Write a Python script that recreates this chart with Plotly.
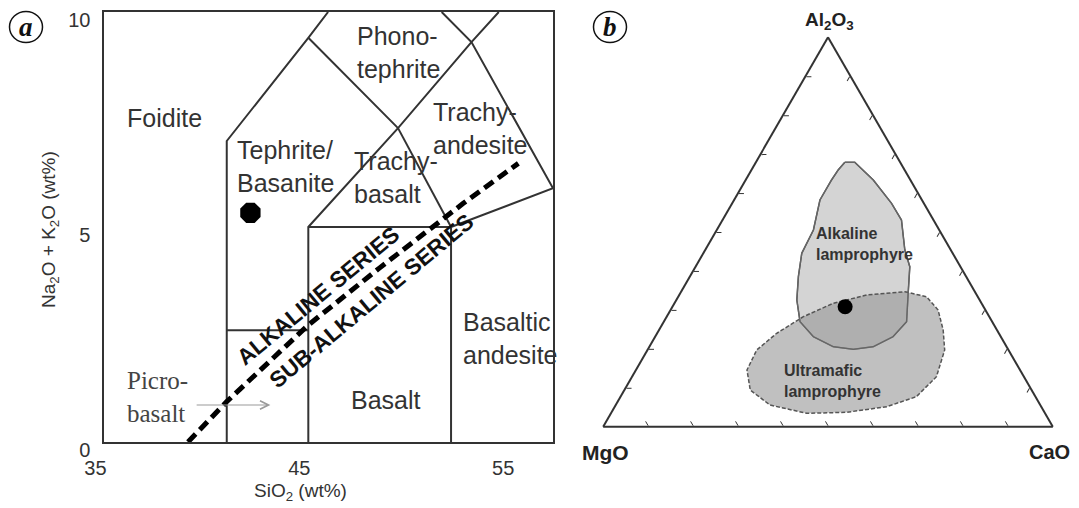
import plotly.graph_objects as go

# page body has an 8 px margin: the figure is sized to fill the rest of the window
PAGE_OFF = 8
W, H = 1079 - PAGE_OFF, 508 - PAGE_OFF

# ---------------- Panel (a): TAS diagram data ----------------
sio2_range = [35, 57]
alkali_range = [0, 10]
x_tick_vals = [35, 45, 55]
y_tick_vals = [0, 5, 10]

# field boundary polylines (SiO2 wt%, Na2O+K2O wt%)
bound_foidite_x = [41, 41, 45, 45.97]
bound_foidite_y = [0, 7, 9.4, 10]
bound_phono_x = [45, 49.4, 53, 54.34]
bound_phono_y = [9.4, 7.3, 9.3, 10]
bound_tb_right_x = [49.4, 52]
bound_tb_right_y = [7.3, 5]
bound_basalt_left_x = [45, 45, 49.4]
bound_basalt_left_y = [0, 5, 7.3]
bound_basalt_top_x = [45, 52]
bound_basalt_top_y = [5, 5]
bound_bas_and_x = [52, 52, 57]
bound_bas_and_y = [0, 5, 5.9]
bound_trachyand_x = [51.54, 53, 57]
bound_trachyand_y = [10, 9.3, 5.9]
bound_picro_x = [41, 45]
bound_picro_y = [2.6, 2.6]

# alkaline / sub-alkaline divide
divide_sio2 = [39.1, 41, 45, 48.5, 52.6, 55.3]
divide_alkali = [0, 0.94, 2.72, 4.05, 5.55, 6.48]

# sample
sample_sio2 = [42.16]
sample_alkali = [5.33]

field_names = ["Foidite", "Phono-<br>tephrite", "Trachy-<br>andesite", "Tephrite/<br>Basanite",
               "Trachy-<br>basalt", "Basaltic<br>andesite", "Basalt"]
field_x = [36.01, 47.28, 51.04, 41.42, 47.16, 52.49, 46.98]
field_y = [7.53, 9.05, 7.30, 6.40, 6.14, 2.40, 0.98]

# ---------------- Panel (b): ternary data (wt% Al2O3, CaO; MgO = rest) ----------------
alk_lamp_al = [67.9, 67.9, 63.35, 57.37, 53.08, 45.38, 41.09, 34.26, 26.96, 23.11, 20.54,
               19.88, 20.54, 23.11, 26.96, 32.54, 38.52, 44.53, 50.51, 58.22, 63.35, 65.92]
alk_lamp_ca = [19.8, 22.0, 28.4, 35.45, 39.8, 44.4, 47.65, 50.7, 54.0, 52.9, 49.8,
               45.7, 40.9, 35.2, 30.3, 26.8, 24.15, 21.9, 21.5, 19.1, 19.1, 19.3]
ultra_lamp_al = [34.67, 33.38, 29.97, 24.83, 19.70, 12.84, 7.70, 5.14, 3.70, 3.44, 5.57,
                 9.42, 14.56, 19.70, 23.99, 28.25, 31.69, 33.82]
ultra_lamp_ca = [49.75, 55.2, 59.5, 63.2, 66.1, 67.7, 65.8, 60.5, 52.3, 43.55, 34.3,
                 28.0, 24.7, 24.3, 26.6, 30.4, 35.3, 41.7]
sample_al = [30.82]
sample_ca = [38.4]


def closed(v):
    return list(v) + [v[0]]


def mg(al, ca):
    return [100 - a - c for a, c in zip(al, ca)]


LINE = "#333333"
SANS = "Liberation Sans, Arial, sans-serif"
SERIF = "Liberation Serif, Times New Roman, serif"

fig = go.Figure()

boundaries = [
    (bound_foidite_x, bound_foidite_y),
    (bound_phono_x, bound_phono_y),
    (bound_tb_right_x, bound_tb_right_y),
    (bound_basalt_left_x, bound_basalt_left_y),
    (bound_basalt_top_x, bound_basalt_top_y),
    (bound_bas_and_x, bound_bas_and_y),
    (bound_trachyand_x, bound_trachyand_y),
    (bound_picro_x, bound_picro_y),
]
for bx, by in boundaries:
    fig.add_trace(go.Scatter(x=bx, y=by, mode="lines", line=dict(color=LINE, width=2),
                             hoverinfo="skip", showlegend=False, xaxis="x", yaxis="y"))

fig.add_trace(go.Scatter(x=divide_sio2, y=divide_alkali, mode="lines",
                         line=dict(color="black", width=5, dash="11px,6px"),
                         showlegend=False, xaxis="x", yaxis="y"))

fig.add_trace(go.Scatter(x=sample_sio2, y=sample_alkali, mode="markers",
                         marker=dict(symbol="octagon", size=22, color="black"),
                         showlegend=False, xaxis="x", yaxis="y"))

# ternary fields
fig.add_trace(go.Scatterternary(
    a=closed(alk_lamp_al), c=closed(alk_lamp_ca), b=closed(mg(alk_lamp_al, alk_lamp_ca)),
    mode="lines", fill="toself", fillcolor="#d4d4d4", line=dict(color="#555555", width=1.5),
    showlegend=False, subplot="ternary"))
fig.add_trace(go.Scatterternary(
    a=closed(ultra_lamp_al), c=closed(ultra_lamp_ca), b=closed(mg(ultra_lamp_al, ultra_lamp_ca)),
    mode="lines", fill="toself", fillcolor="rgba(150,150,150,0.6)",
    line=dict(color="#555555", width=1.5, dash="4px,2px"),
    showlegend=False, subplot="ternary"))
fig.add_trace(go.Scatterternary(
    a=closed(alk_lamp_al), c=closed(alk_lamp_ca), b=closed(mg(alk_lamp_al, alk_lamp_ca)),
    mode="lines", line=dict(color="#666666", width=1.3),
    showlegend=False, subplot="ternary"))
fig.add_trace(go.Scatterternary(
    a=sample_al, c=sample_ca, b=mg(sample_al, sample_ca), mode="markers",
    marker=dict(size=15, color="black"), showlegend=False, subplot="ternary"))


def px(x):
    """window pixel x -> paper fraction"""
    return (x - PAGE_OFF) / W


def py(y):
    """window pixel y (from top) -> paper fraction"""
    return 1 - (y - PAGE_OFF) / H


def paper_text(x, y, text, size, color="#333333", family=SANS, angle=0,
               xanchor="center", align="center"):
    return dict(x=px(x), y=py(y), xref="paper", yref="paper", text=text, showarrow=False,
                xanchor=xanchor, yanchor="middle", align=align, textangle=angle,
                font=dict(family=family, size=size, color=color))


annotations = []
for name, fx, fy in zip(field_names, field_x, field_y):
    annotations.append(dict(x=fx, y=fy, xref="x", yref="y", text=name, showarrow=False,
                            xanchor="left", yanchor="middle", align="left",
                            font=dict(family=SANS, size=25, color="#333333")))

# Picro-basalt (serif) with arrow
annotations.append(dict(x=36.01, y=1.05, xref="x", yref="y", text="Picro-<br>basalt",
                        showarrow=False, xanchor="left", yanchor="middle", align="left",
                        font=dict(family=SERIF, size=25, color="#444444")))
annotations.append(dict(x=43.14, y=0.86, ax=39.45, ay=0.86, xref="x", yref="y",
                        axref="x", ayref="y", text="", showarrow=True, arrowhead=5,
                        arrowsize=1.4, arrowwidth=1.2, arrowcolor="#9a9a9a"))

# series labels
annotations.append(dict(x=45.52, y=3.40, xref="x", yref="y", text="<b>ALKALINE SERIES</b>",
                        showarrow=False, textangle=-39.6, xanchor="center", yanchor="middle",
                        font=dict(family=SANS, size=22.5, color="#111111")))
annotations.append(dict(x=48.14, y=3.28, xref="x", yref="y", text="<b>SUB-ALKALINE SERIES</b>",
                        showarrow=False, textangle=-39.8, xanchor="center", yanchor="middle",
                        font=dict(family=SANS, size=22.5, color="#111111")))

# axis titles
annotations.append(paper_text(50, 230, "Na<sub>2</sub>O + K<sub>2</sub>O (wt%)", 19, angle=-90))
annotations.append(paper_text(300, 492, "SiO<sub>2</sub> (wt%)", 19))

# ternary corner labels
annotations.append(paper_text(829, 21, "<b>Al<sub>2</sub>O<sub>3</sub></b>", 19, "#222222"))
annotations.append(paper_text(605, 452, "<b>MgO</b>", 21, "#222222"))
annotations.append(paper_text(1049, 452, "<b>CaO</b>", 20, "#222222"))

# ternary field labels
annotations.append(paper_text(814, 244, "<b>Alkaline<br>lamprophyre</b>", 16,
                              xanchor="left", align="left"))
annotations.append(paper_text(782, 381, "<b>Ultramafic<br>lamprophyre</b>", 16,
                              xanchor="left", align="left"))

# panel letters
for cx, cy, letter in [(26, 27, "a"), (610, 27, "b")]:
    annotations.append(paper_text(cx, cy, "<b><i>" + letter + "</i></b>", 27, "#111111",
                                  family=SERIF))

shapes = []
for cx, cy in [(26, 27), (610, 27)]:
    shapes.append(dict(type="circle", xref="paper", yref="paper",
                       x0=px(cx - 16.5), x1=px(cx + 16.5), y0=py(cy + 15.5), y1=py(cy - 15.5),
                       line=dict(color="#111111", width=1.5)))

tern_axis = dict(showticklabels=False, ticks="inside", ticklen=5, tickwidth=1.3,
                 tickcolor=LINE, dtick=10, linecolor=LINE, linewidth=2,
                 showgrid=False, title=dict(text=""))

fig.update_layout(
    width=W, height=H,
    margin=dict(l=0, r=0, t=0, b=0, autoexpand=False),
    paper_bgcolor="white", plot_bgcolor="white",
    showlegend=False,
    xaxis=dict(domain=[px(104.4), px(553)], range=sio2_range, tickvals=x_tick_vals,
               showline=True, mirror=True, linecolor=LINE, linewidth=2,
               showgrid=False, zeroline=False, ticks="", automargin=False,
               tickfont=dict(family=SANS, size=20, color="#333333"),
               ticklabelstandoff=7, ticklabelshift=-9),
    yaxis=dict(domain=[py(442), py(12)], range=alkali_range, tickvals=y_tick_vals,
               showline=True, mirror=True, linecolor=LINE, linewidth=2,
               showgrid=False, zeroline=False, ticks="", automargin=False,
               tickfont=dict(family=SANS, size=20, color="#333333"),
               ticklabelstandoff=8, ticklabelshift=8),
    ternary=dict(domain=dict(x=[px(602.7), px(1053.3)], y=[py(426.7), py(37.3)]),
                 sum=100, bgcolor="white",
                 aaxis=tern_axis, baxis=tern_axis, caxis=tern_axis),
    annotations=annotations,
    shapes=shapes,
)

fig.write_html("out.html")
